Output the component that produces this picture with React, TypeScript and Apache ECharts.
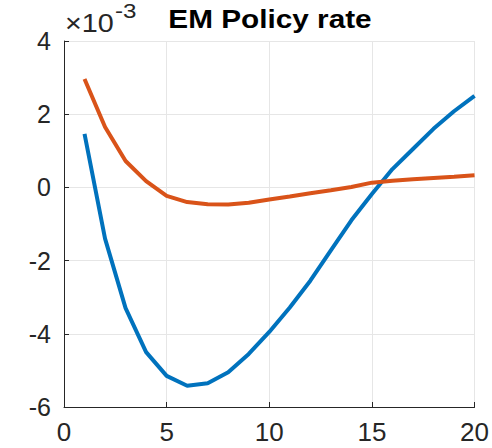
import React, { useEffect, useRef } from "react";
import * as echarts from "echarts";

const periods = [1, 2, 3, 4, 5, 6, 7, 8, 9, 10, 11, 12, 13, 14, 15, 16, 17, 18, 19, 20];
const blueSeries = [1.46, -1.4, -3.3, -4.5, -5.15, -5.42, -5.35, -5.05, -4.55, -3.95, -3.28, -2.55, -1.72, -0.9, -0.18, 0.5, 1.05, 1.6, 2.08, 2.5];
const orangeSeries = [2.96, 1.65, 0.72, 0.17, -0.23, -0.4, -0.46, -0.47, -0.42, -0.33, -0.25, -0.16, -0.08, 0.01, 0.13, 0.18, 0.22, 0.26, 0.29, 0.33];
const xTicks = [0, 5, 10, 15, 20];
const yTicks = [-6, -4, -2, 0, 2, 4];
const titleText = "EM Policy rate";
const exponentBase = "×10";
const exponentPower = "-3";

export default function App() {
  const ref = useRef<HTMLDivElement>(null);
  useEffect(() => {
    if (!ref.current) return;
    const chart = echarts.init(ref.current, null, { renderer: "svg" });
    const font = "'Liberation Sans', Arial, Helvetica, sans-serif";
    chart.setOption({
      animation: false,
      backgroundColor: "#ffffff",
      textStyle: { fontFamily: font },
      graphic: [
        {
          type: "text",
          x: 270,
          y: 19,
          scaleX: 1.19,
          style: {
            text: titleText,
            x: 0,
            y: 0,
            align: "center",
            verticalAlign: "middle",
            fontSize: 25,
            fontWeight: "bold",
            fontFamily: font,
            fill: "#000000",
          },
        },
        {
          type: "text",
          x: 65,
          y: 24,
          scaleX: 1.15,
          style: {
            text: exponentBase,
            x: 0,
            y: 0,
            align: "left",
            verticalAlign: "middle",
            fontSize: 25,
            fontFamily: font,
            fill: "#262626",
          },
        },
        {
          type: "text",
          x: 115,
          y: 11,
          scaleX: 1.15,
          style: {
            text: exponentPower,
            x: 0,
            y: 0,
            align: "left",
            verticalAlign: "middle",
            fontSize: 21,
            fontFamily: font,
            fill: "#262626",
          },
        },
      ],
      grid: { left: 64, right: 15, top: 41, bottom: 41, containLabel: false },
      xAxis: {
        type: "value",
        min: 0,
        max: 20,
        interval: 5,
        axisLine: { show: true, onZero: false, lineStyle: { color: "#262626", width: 1 } },
        axisTick: { show: true, inside: true, length: 5, lineStyle: { color: "#262626" } },
        axisLabel: {
          color: "#262626",
          fontSize: 26,
          margin: 12,
          fontFamily: font,
          formatter: (v: number) => (xTicks.includes(v) ? String(v) : ""),
        },
        splitLine: { show: true, lineStyle: { color: "#e6e6e6", width: 1 } },
      },
      yAxis: {
        type: "value",
        min: -6,
        max: 4,
        interval: 2,
        axisLine: { show: true, onZero: false, lineStyle: { color: "#262626", width: 1 } },
        axisTick: { show: true, inside: true, length: 5, lineStyle: { color: "#262626" } },
        axisLabel: {
          color: "#262626",
          fontSize: 25,
          margin: 13,
          fontFamily: font,
          formatter: (v: number) => (yTicks.includes(v) ? String(v) : ""),
        },
        splitLine: { show: true, lineStyle: { color: "#e6e6e6", width: 1 } },
      },
      series: [
        {
          type: "line",
          data: periods.map((p, i) => [p, blueSeries[i]]),
          showSymbol: false,
          lineStyle: { color: "#0072BD", width: 4 },
          itemStyle: { color: "#0072BD" },
        },
        {
          type: "line",
          data: periods.map((p, i) => [p, orangeSeries[i]]),
          showSymbol: false,
          lineStyle: { color: "#D95319", width: 4 },
          itemStyle: { color: "#D95319" },
        },
      ],
    });
    return () => chart.dispose();
  }, []);
  return <div ref={ref} style={{ width: 492, height: 448, position: "absolute", left: 0, top: 0 }} />;
}
